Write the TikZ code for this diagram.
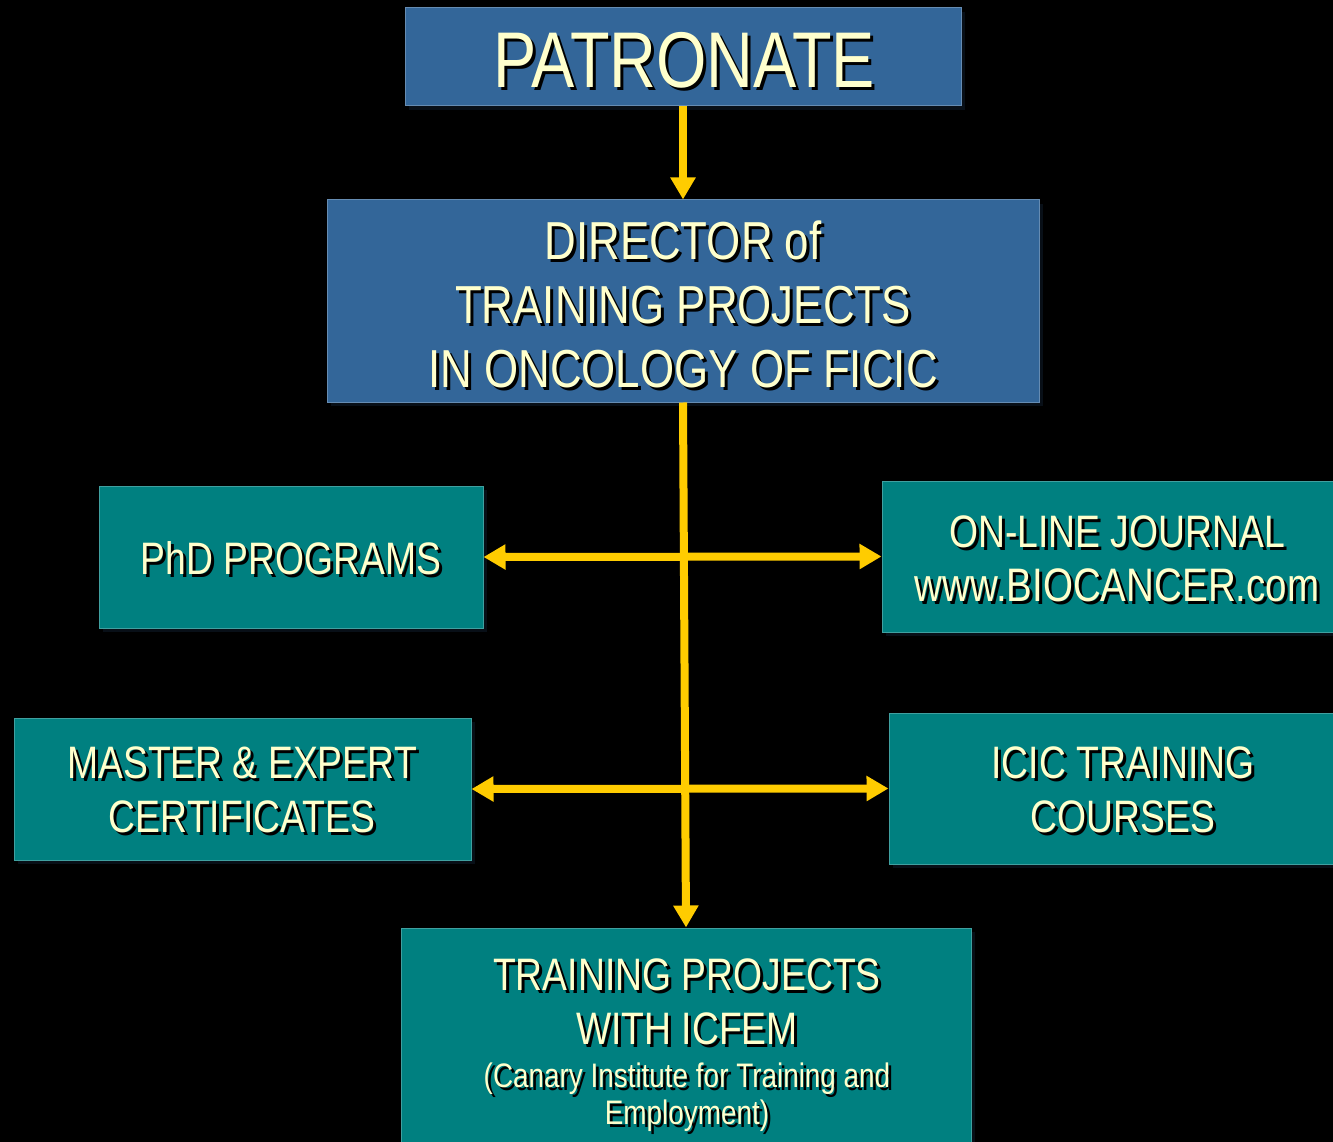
\documentclass[tikz,border=0pt]{standalone}
\usepackage{fontspec}
\setmainfont[FakeStretch=0.82]{Liberation Sans}
\usetikzlibrary{arrows.meta}
\definecolor{boxblue}{HTML}{336699}
\definecolor{boxteal}{HTML}{008080}
\definecolor{arrowyel}{HTML}{FFCC00}
\definecolor{txtyel}{HTML}{FFFFCC}
\newcommand\sh[1]{\leavevmode\rlap{\kern3pt\raisebox{-3pt}{\color{black}#1}}#1}
\tikzset{
  panel/.style={draw=#1!75!white, line width=1pt, fill=#1, inner sep=0pt, anchor=center},
  bluebox/.style={panel=boxblue},
  tealbox/.style={panel=boxteal},
  label/.style={text=txtyel, align=center, inner sep=0pt},
  conn/.style={arrowyel, line width=8pt, -{Triangle[width=24pt,length=22pt]}},
  conn2/.style={arrowyel, line width=8pt, {Triangle[width=24pt,length=22pt]}-{Triangle[width=24pt,length=22pt]}},
}
\newcommand\bigf{\fontsize{79}{90}\selectfont}
\newcommand\midf{\fontsize{53.5}{64}\selectfont}
\newcommand\smf{\fontsize{45.5}{54}\selectfont}
\newcommand\tinyf{\fontsize{34}{37}\selectfont}
\begin{document}
\begin{tikzpicture}[x=1pt,y=-1pt]
\fill[black] (0,0) rectangle (1333,1142);
\useasboundingbox (0,0) rectangle (1333,1142);
\clip (0,0) rectangle (1333,1142);
% shadows of boxes
\foreach \a/\b/\c/\d in {405/8/961/106, 327/200/1039/402, 99/486/483/628, 882/481/1340/632, 14/718/471/860, 889/713/1340/864, 401/928/971/1150}
  \fill[black!85!boxblue] (\a+4,\b+4) rectangle (\c+4,\d+4);
% boxes
\node[bluebox, minimum width=556pt, minimum height=98pt] (pat) at (683,57) {};
\node[bluebox, minimum width=712pt, minimum height=202pt] (dir) at (683,301) {};
\node[tealbox, minimum width=384pt, minimum height=142pt] (phd) at (291,557) {};
\node[tealbox, minimum width=458pt, minimum height=151pt] (onl) at (1111,556.5) {};
\node[tealbox, minimum width=457pt, minimum height=142pt] (mas) at (242.5,789) {};
\node[tealbox, minimum width=451pt, minimum height=151pt] (icic) at (1114.5,788.5) {};
\node[tealbox, minimum width=570pt, minimum height=222pt] (tra) at (686,1039) {};
% texts
\node[label, font=\bigf] (patT) at (684,62) {\sh{PATRONATE}};
\node[label, font=\midf] (dirT) at (683,306) {\sh{DIRECTOR of}\\\sh{TRAINING PROJECTS}\\\sh{IN ONCOLOGY OF FICIC}};
\node[label, font=\smf] (phdT) at (291,560) {\sh{PhD PROGRAMS}};
\node[label, font=\smf] (onlT) at (1117,560) {\sh{ON-LINE JOURNAL}\\\sh{{\fontsize{47}{54}\selectfont www.BIOCANCER.com}}};
\node[label, font=\smf] (masT) at (242,791) {\sh{MASTER \& EXPERT}\\\sh{CERTIFICATES}};
\node[label, font=\smf] (icicT) at (1123,791) {\sh{ICIC TRAINING}\\\sh{COURSES}};
\node[label, font=\smf, anchor=north] (traT) at (687,959) {\sh{TRAINING PROJECTS}\\\sh{WITH ICFEM}};
\node[label, font=\tinyf, anchor=north] (traS) at (687,1063) {\sh{(Canary Institute for Training and}\\\sh{Employment)}};
% connectors
\draw[conn] (pat.south) -- (dir.north);
\draw[conn2] (phd.east) -- (onl.west);
\draw[conn2] (mas.east) -- (icic.west);
\draw[conn] (dir.south) -- (tra.north);
\end{tikzpicture}
\end{document}
